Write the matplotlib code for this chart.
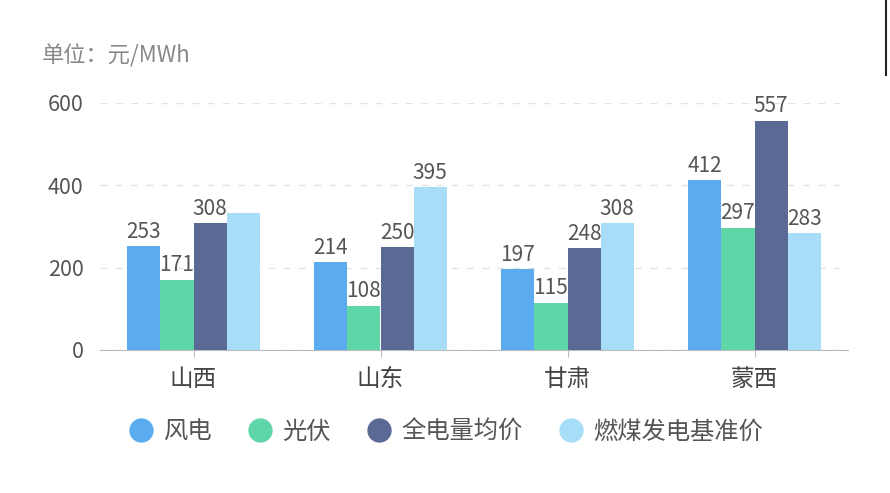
import matplotlib.pyplot as plt
import numpy as np

plt.rcParams['font.family'] = ['Noto Sans CJK SC', 'DejaVu Sans']

regions = ['山西', '山东', '甘肃', '蒙西']
series = ['风电', '光伏', '全电量均价', '燃煤发电基准价']
wind = [253, 214, 197, 412]
solar = [171, 108, 115, 297]
avg_all = [308, 250, 248, 557]
coal_base = [333, 395, 308, 283]
show_label = [[True] * 4, [True] * 4, [True] * 4, [False, True, True, True]]
colors = ['#5aabf0', '#5fd6a8', '#5a6a94', '#a8ddf7']

fig = plt.figure(figsize=(8.9, 4.93), dpi=100)
ax = fig.add_axes([100 / 890, 1 - 350 / 493, 748 / 890, 247 / 493])

x = np.arange(len(regions))
w = 0.177
for i, (vals, c) in enumerate(zip([wind, solar, avg_all, coal_base], colors)):
    pos = x + (i - 1.5) * w
    ax.bar(pos, vals, width=w, color=c, zorder=3)
    for p, v, s in zip(pos, vals, show_label[i]):
        if s:
            ax.text(p, v + 8, str(v), ha='center', va='bottom',
                    fontsize=15, color='#555555', zorder=4)

ax.set_xlim(-0.5, 3.5)
ax.set_ylim(0, 600)
ax.set_yticks([0, 200, 400, 600])
ax.set_xticks(x)
ax.set_xticklabels(regions, fontsize=17, color='#444444')
ax.tick_params(axis='y', length=0, labelsize=15.5, labelcolor='#555555', pad=12)
ax.tick_params(axis='x', length=5, color='#bbbbbb', pad=8)
ax.grid(axis='y', linestyle=(0, (5, 6)), color='#e3e3e3', linewidth=1, zorder=0)
for s in ['top', 'right', 'left']:
    ax.spines[s].set_visible(False)
ax.spines['bottom'].set_color('#bbbbbb')

fig.text(42 / 890, 1 - 56 / 493, '单位：元/MWh', fontsize=16,
         color='#888888', va='center', ha='left')

leg = fig.legend(
    [plt.Line2D([], [], marker='o', ls='', markersize=16.5, color=c) for c in colors],
    series, loc='center', bbox_to_anchor=(446 / 890, 1 - 432 / 493),
    ncol=4, frameon=False, fontsize=17.5, handletextpad=0.4,
    columnspacing=1.5, handlelength=1.0)
for t in leg.get_texts():
    t.set_color('#555555')

# dark edge line at top right of the original screenshot
fig.add_artist(plt.Line2D([886 / 890, 886 / 890], [1, 1 - 75 / 493],
                          transform=fig.transFigure, color='#222222', lw=1.5))

fig.savefig('out.png', dpi=100)
